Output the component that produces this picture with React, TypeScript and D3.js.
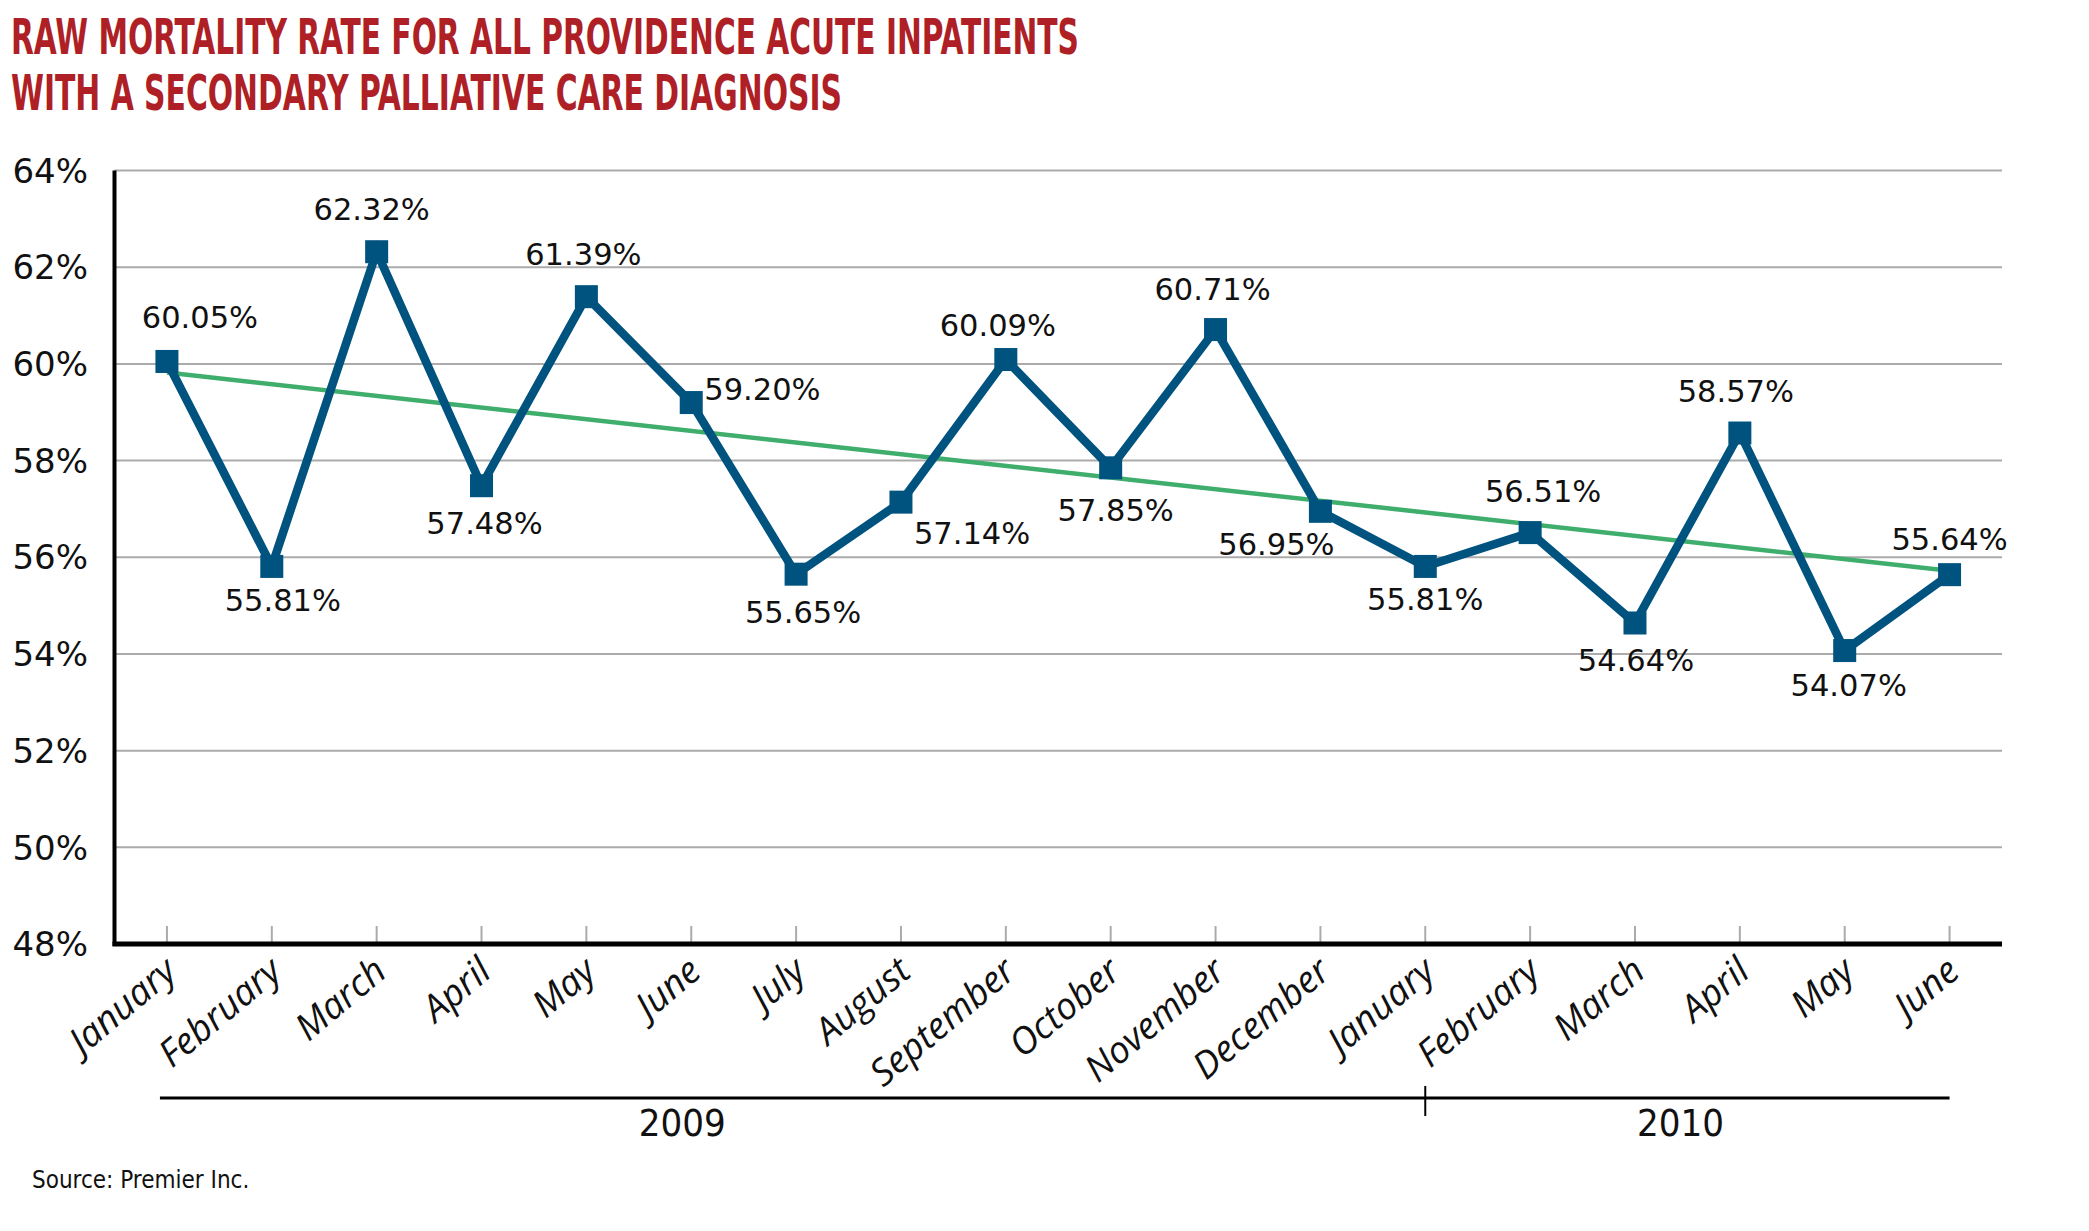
import * as d3 from "d3";

const MONTHS = [
  "January", "February", "March", "April", "May", "June",
  "July", "August", "September", "October", "November", "December",
  "January", "February", "March", "April", "May", "June",
];
const RATES = [
  60.05, 55.81, 62.32, 57.48, 61.39, 59.2, 55.65, 57.14, 60.09,
  57.85, 60.71, 56.95, 55.81, 56.51, 54.64, 58.57, 54.07, 55.64,
];
const Y_TICKS = [48, 50, 52, 54, 56, 58, 60, 62, 64];
const YEARS = [
  { label: "2009", from: 0, to: 12 },
  { label: "2010", from: 12, to: 17 },
];
const TITLE = [
  "RAW MORTALITY RATE FOR ALL PROVIDENCE ACUTE INPATIENTS",
  "WITH A SECONDARY PALLIATIVE CARE DIAGNOSIS",
];
const SOURCE = "Source: Premier Inc.";

// where each value label sits relative to its marker: [side, dx, dy]
const LABEL_POS: [string, number, number][] = [
  ["above", 33, -33], ["below", 11, 45], ["above", -5, -32], ["below", 3, 48],
  ["above", -3, -32], ["right", 13, -3], ["below", 7, 49], ["right", 13, 42],
  ["above", -8, -24], ["below", 5, 53], ["above", -3, -30], ["below", -44, 44],
  ["below", 0, 44], ["above", 13, -31], ["below", 1, 48], ["above", -4, -31],
  ["below", 4, 45], ["above", 0, -25],
];

const W = 2089;
const H = 1231;
const m = { left: 114.5, right: 2002, top: 170.5, bottom: 944 };
const BLUE = "#00527f";
const GREEN = "#3fae6c";
const RED = "#ae1f26";
const NUM_FONT = "'DejaVu Sans', sans-serif";
const COND_FONT = "'DejaVu Sans Condensed', 'DejaVu Sans', sans-serif";

export default function App() {
  const idx = d3.range(MONTHS.length);
  const x = d3.scalePoint<number>().domain(idx).range([m.left, m.right]).padding(0.5);
  const y = d3.scaleLinear().domain([48, 64]).range([m.bottom, m.top]);

  const line = d3
    .line<number>()
    .x((i) => x(i)!)
    .y((i) => y(RATES[i]));

  // least squares trend
  const mx = d3.mean(idx)!;
  const my = d3.mean(RATES)!;
  const slope =
    d3.sum(idx, (i) => (i - mx) * (RATES[i] - my)) / d3.sum(idx, (i) => (i - mx) ** 2);
  const trend = (i: number) => my + slope * (i - mx);
  const last = idx.length - 1;

  const sq = 23;
  const bracketY = 1098;

  return (
    <div style={{ position: "absolute", left: 0, top: 0 }}>
      <svg width={W} height={H} style={{ display: "block", background: "#fff" }}>
        {TITLE.map((t, i) => (
          <text
            key={i}
            x={11}
            y={54 + i * 56}
            fill={RED}
            fontFamily={COND_FONT}
            fontWeight="bold"
            fontSize={50}
            textLength={i === 0 ? 1068 : 831}
            lengthAdjust="spacingAndGlyphs"
          >
            {t}
          </text>
        ))}

        {/* grid */}
        {Y_TICKS.map((t) => (
          <g key={t}>
            {t > 48 && (
              <line x1={m.left} x2={m.right} y1={y(t)} y2={y(t)} stroke="#ababab" strokeWidth={2} />
            )}
            <text
              x={88}
              y={y(t)}
              dy="0.36em"
              textAnchor="end"
              fontFamily={NUM_FONT}
              fontSize={34}
              fill="#111"
            >
              {t}%
            </text>
          </g>
        ))}

        {/* x ticks */}
        {idx.map((i) => (
          <line key={i} x1={x(i)} x2={x(i)} y1={m.bottom - 18} y2={m.bottom} stroke="#ababab" strokeWidth={2} />
        ))}

        {/* axes */}
        <line x1={m.left} x2={m.left} y1={m.top} y2={m.bottom + 2} stroke="#000" strokeWidth={4} />
        <line x1={m.left - 2} x2={m.right} y1={m.bottom} y2={m.bottom} stroke="#000" strokeWidth={5} />

        {/* month labels */}
        {idx.map((i) => (
          <text
            key={i}
            transform={`translate(${x(i)! + 12},${m.bottom + 31}) rotate(-40)`}
            textAnchor="end"
            fontFamily="'Open Sans', sans-serif"
            fontStyle="italic"
            fontSize={37}
            fill="#111"
          >
            {MONTHS[i]}
          </text>
        ))}

        {/* trend */}
        <line
          x1={x(0)}
          y1={y(trend(0))}
          x2={x(last)}
          y2={y(trend(last))}
          stroke={GREEN}
          strokeWidth={4.5}
        />

        {/* series */}
        <path d={line(idx)!} fill="none" stroke={BLUE} strokeWidth={8.5} strokeLinejoin="miter" />
        {idx.map((i) => (
          <rect key={i} x={x(i)! - sq / 2} y={y(RATES[i]) - sq / 2} width={sq} height={sq} fill={BLUE} />
        ))}

        {/* value labels */}
        {idx.map((i) => {
          const [side, dx, dy] = LABEL_POS[i];
          return (
            <text
              key={i}
              x={x(i)! + dx}
              y={y(RATES[i]) + dy}
              textAnchor={side === "right" ? "start" : "middle"}
              fontFamily={NUM_FONT}
              fontSize={30.5}
              fill="#111"
            >
              {RATES[i].toFixed(2)}%
            </text>
          );
        })}

        {/* year bracket */}
        <line
          x1={x(0)! - 7}
          x2={x(last)}
          y1={bracketY}
          y2={bracketY}
          stroke="#000"
          strokeWidth={3}
        />
        <line x1={x(12)} x2={x(12)} y1={bracketY - 12} y2={bracketY + 18} stroke="#000" strokeWidth={2} />
        {YEARS.map((yr, k) => (
          <text
            key={yr.label}
            x={k === 0 ? x(5)! - 9 : (x(yr.from)! + x(yr.to)!) / 2 - 7}
            y={1136}
            textAnchor="middle"
            fontFamily={COND_FONT}
            fontSize={38}
            fill="#111"
          >
            {yr.label}
          </text>
        ))}

        <text x={32} y={1188} fontFamily={COND_FONT} fontSize={24} fill="#111">
          {SOURCE}
        </text>
      </svg>
    </div>
  );
}
